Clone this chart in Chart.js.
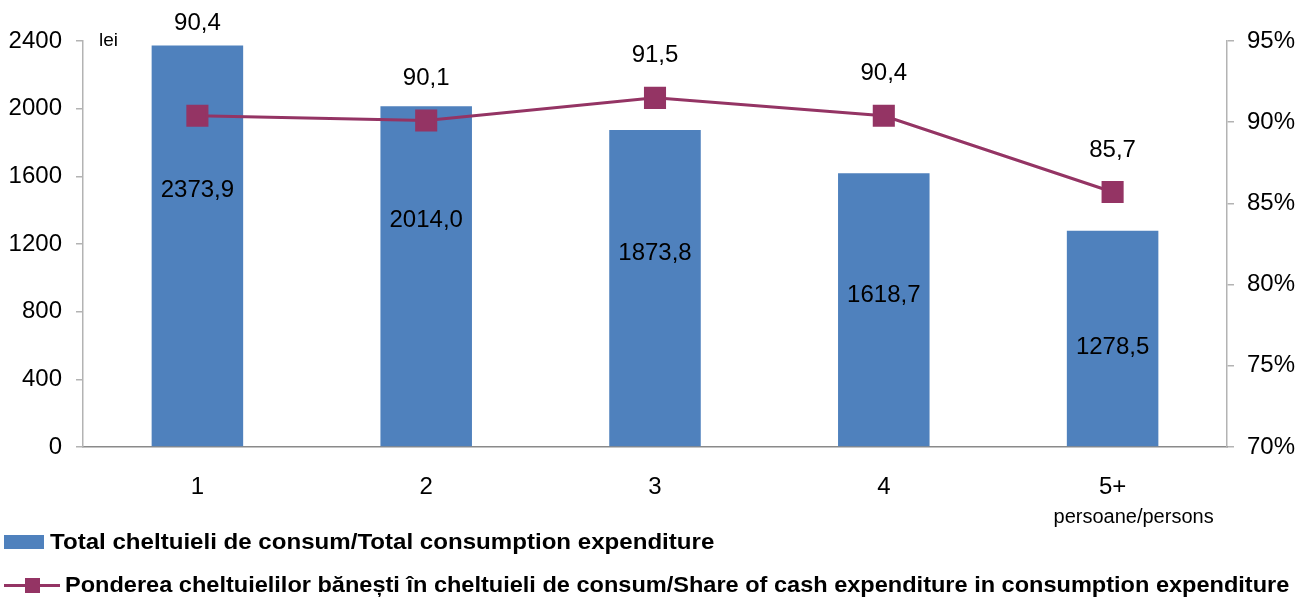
<!DOCTYPE html>
<html>
<head>
<meta charset="utf-8">
<script src="https://cdn.jsdelivr.net/npm/chart.js@4"></script>
<style>
  body { margin: 0; background: #fff; }
  #wrap { position: relative; width: 1309px; height: 608px; font-family: 'Liberation Sans', Arial, sans-serif; }
  #chart { position: absolute; left: 0; top: 0; }
  .leg { position: absolute; font-weight: bold; font-size: 22px; color: #000; white-space: nowrap; line-height: 24px; transform-origin: 0 50%; }
  .swatch { position: absolute; }
</style>
</head>
<body>
<div id="wrap">
  <canvas id="chart" width="1309" height="608"></canvas>
  <div class="swatch" style="left:4px; top:535px; width:40px; height:14px; background:#4f81bd;"></div>
  <div class="leg" style="left:50px; top:530px; transform:scaleX(1.095);">Total cheltuieli de consum/Total consumption expenditure</div>
  <div class="swatch" style="left:4px; top:584px; width:56px; height:3px; background:#943464;"></div>
  <div class="swatch" style="left:25px; top:578px; width:15px; height:15px; background:#943464;"></div>
  <div class="leg" style="left:65px; top:573px; transform:scaleX(1.07);">Ponderea cheltuielilor bănești în cheltuieli de consum/Share of cash expenditure in consumption expenditure</div>
</div>
<script>
// household size categories
const categories = ['1', '2', '3', '4', '5+'];
// total consumption expenditure, lei
const totalExpenditure = [2373.9, 2014.0, 1873.8, 1618.7, 1278.5];
// share of cash expenditure, %
const cashShare = [90.4, 90.1, 91.5, 90.4, 85.7];
// where the bar value labels sit, in lei on the left axis
const barLabelAt = [1519, 1342, 1147, 899, 591];

const FONT = "'Liberation Sans', Arial, sans-serif";
const fmt = v => v.toFixed(1).replace('.', ',');

// value labels, the "lei" unit and the persons note under the last category
const labelPlugin = {
  id: 'valueLabels',
  afterDatasetsDraw(chart) {
    const ctx = chart.ctx;
    const y = chart.scales.y;
    const x = chart.scales.x;
    const lineMeta = chart.getDatasetMeta(0);
    const barMeta = chart.getDatasetMeta(1);
    ctx.save();
    ctx.fillStyle = '#000';
    ctx.textAlign = 'center';
    ctx.textBaseline = 'middle';
    ctx.font = '24px ' + FONT;
    barMeta.data.forEach((bar, i) => {
      ctx.fillText(fmt(totalExpenditure[i]), bar.x, y.getPixelForValue(barLabelAt[i]));
    });
    lineMeta.data.forEach((pt, i) => {
      const barTop = barMeta.data[i].y;
      const ly = Math.min(pt.y - 42, barTop - 22);
      ctx.fillText(fmt(cashShare[i]), pt.x, ly);
    });
    ctx.font = '19px ' + FONT;
    ctx.textAlign = 'left';
    ctx.fillText('lei', 99, y.getPixelForValue(2400));
    ctx.font = '20px ' + FONT;
    ctx.textAlign = 'center';
    ctx.fillText('persoane/persons', x.getPixelForValue(4) + 21, 517);
    ctx.restore();
  }
};

new Chart(document.getElementById('chart').getContext('2d'), {
  type: 'bar',
  data: {
    labels: categories,
    datasets: [{
      type: 'line',
      label: 'Ponderea cheltuielilor bănești în cheltuieli de consum/Share of cash expenditure in consumption expenditure',
      data: cashShare,
      yAxisID: 'y1',
      borderColor: '#943464',
      backgroundColor: '#943464',
      borderWidth: 3,
      pointStyle: 'rect',
      pointRadius: 13.5,
      pointHoverRadius: 13.5,
      tension: 0,
      order: 0
    }, {
      type: 'bar',
      label: 'Total cheltuieli de consum/Total consumption expenditure',
      data: totalExpenditure,
      yAxisID: 'y',
      backgroundColor: '#4f81bd',
      categoryPercentage: 1,
      barPercentage: 0.4,
      order: 1
    }]
  },
  options: {
    responsive: false,
    animation: false,
    layout: { padding: { top: 41, left: 0, right: 0, bottom: 0 } },
    plugins: { legend: { display: false }, tooltip: { enabled: false } },
    scales: {
      x: {
        grid: { display: false },
        border: { color: '#8a8a8a', width: 1.5 },
        ticks: { color: '#000', font: { family: FONT, size: 24 }, padding: 18 },
        afterFit(s) { s.height = 161; }
      },
      y: {
        position: 'left',
        min: 0, max: 2400,
        grid: { drawOnChartArea: false, tickLength: 7, color: '#b3b3b3', lineWidth: 1.5 },
        border: { color: '#b3b3b3', width: 1.5 },
        ticks: { stepSize: 400, color: '#000', font: { family: FONT, size: 24 }, padding: 14, callback: v => String(v) },
        afterFit(s) { s.width = 83; }
      },
      y1: {
        position: 'right',
        min: 70, max: 95,
        grid: { drawOnChartArea: false, tickLength: 7, color: '#b3b3b3', lineWidth: 1.5 },
        border: { color: '#b3b3b3', width: 1.5 },
        ticks: { stepSize: 5, color: '#000', font: { family: FONT, size: 24 }, padding: 13, callback: v => v + '%' },
        afterFit(s) { s.width = 82; }
      }
    }
  },
  plugins: [labelPlugin]
});
</script>
</body>
</html>
